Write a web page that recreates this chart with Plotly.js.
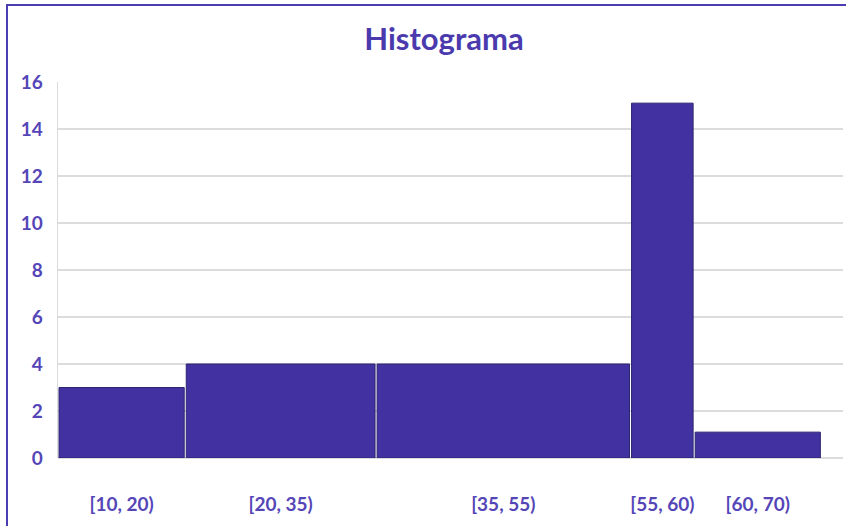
<!DOCTYPE html>
<html>
<head>
<meta charset="utf-8">
<script src="https://cdn.plot.ly/plotly-3.0.1.min.js"></script>
<style>
  html, body { margin: 0; padding: 0; background: #fff; overflow: hidden; }
  #chart { width: 846px; height: 526px; position: absolute; left: 0; top: 0; }
  #frame { position: absolute; left: 6px; top: 4px; width: 900px; height: 600px;
           border-left: 2px solid #4b3db2; border-top: 2px solid #4b3db2; pointer-events: none; }
</style>
</head>
<body>
<div id="chart"></div>
<div id="frame"></div>
<script>
// Bin edges and frequencies
const binEdges = [10, 20, 35, 55, 60, 70];
const binLabels = ["[10, 20)", "[20, 35)", "[35, 55)", "[55, 60)", "[60, 70)"];
const counts = [3, 4, 4, 15.1, 1.1];
const yTicks = [0, 2, 4, 6, 8, 10, 12, 14, 16];

const gap = 0.16;
const centers = [], widths = [];
for (let i = 0; i < counts.length; i++) {
  centers.push((binEdges[i] + binEdges[i + 1]) / 2);
  widths.push(binEdges[i + 1] - binEdges[i] - gap);
}

const txtColor = '#5546b8';
const fontFam = 'Lato, "Open Sans", sans-serif';
const data = [{
  type: 'bar',
  x: centers,
  y: counts,
  width: widths,
  marker: { color: '#4232a1', line: { color: '#2b2470', width: 1 } },
  hoverinfo: 'skip'
}];

const layout = {
  width: 846, height: 526,
  margin: { l: 58, r: 3, t: 82, b: 68 },
  paper_bgcolor: '#ffffff', plot_bgcolor: '#ffffff',
  showlegend: false,
  title: {
    text: 'Histograma',
    x: 444 / 846, xanchor: 'center', xref: 'container',
    y: 0.925, yanchor: 'middle', yref: 'container',
    font: { family: fontFam, size: 31, color: '#4a3aae', weight: 'bold' }
  },
  xaxis: {
    range: [10, 71.7],
    tickmode: 'array', tickvals: centers, ticktext: binLabels,
    showgrid: false, zeroline: false, showline: false,
    ticks: '', ticklabelstandoff: 33,
    tickfont: { family: fontFam, size: 19, color: txtColor, weight: 'bold' },
    fixedrange: true
  },
  yaxis: {
    range: [0, 16],
    tickmode: 'array', tickvals: yTicks,
    showgrid: true, gridcolor: '#dcdcdc', gridwidth: 1.5,
    zeroline: true, zerolinecolor: '#dcdcdc', zerolinewidth: 1.5,
    showline: true, linecolor: '#dcdcdc', linewidth: 1.5,
    ticks: '', ticklabelstandoff: 10,
    tickfont: { family: fontFam, size: 19, color: txtColor, weight: 'bold' },
    fixedrange: true
  },
  bargap: 0
};

Plotly.newPlot('chart', data, layout, { displayModeBar: false, staticPlot: true });
</script>
</body>
</html>
